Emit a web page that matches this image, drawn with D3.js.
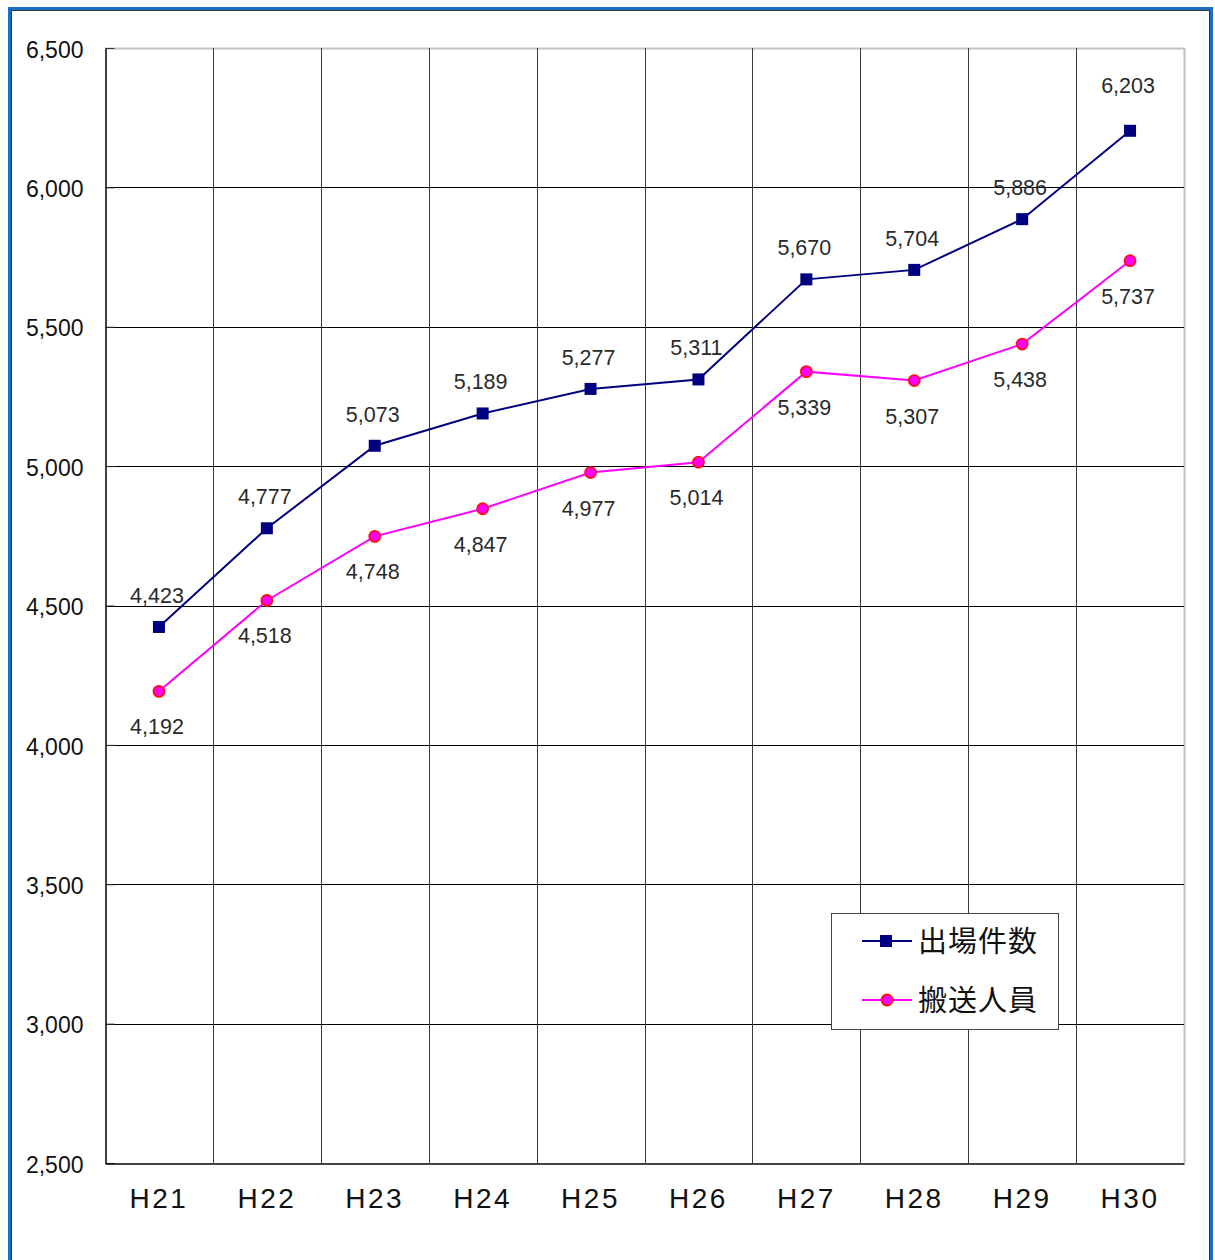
<!DOCTYPE html>
<html><head><meta charset="utf-8">
<script src="https://cdn.jsdelivr.net/npm/d3@7"></script>
<style>body{margin:0;background:#fff}svg{display:block}</style>
</head><body>
<svg id="c" width="1215" height="1260"></svg>
<script>
const categories = ["H21","H22","H23","H24","H25","H26","H27","H28","H29","H30"];
const dispatches = [4423,4777,5073,5189,5277,5311,5670,5704,5886,6203];
const transported = [4192,4518,4748,4847,4977,5014,5339,5307,5438,5737];
const yTicks = [2500,3000,3500,4000,4500,5000,5500,6000,6500];
const seriesNames = ["出場件数","搬送人員"];

const svg = d3.select("#c");
const L=105, R=1184, T=48, B=1163;
const x = d3.scaleBand().domain(categories).range([L,R]).padding(0);
const y = d3.scaleLinear().domain([2500,6500]).range([B,T]);
const fmt = d3.format(",");

// frame
svg.append("rect").attr("x",9.5).attr("y",8.5).attr("width",1202).attr("height",1270)
  .attr("fill","none").attr("stroke","#1b6ec2").attr("stroke-width",3);
svg.append("rect").attr("x",11.5).attr("y",10.5).attr("width",1198).attr("height",1270)
  .attr("fill","none").attr("stroke","#333").attr("stroke-width",1);

const g = svg.append("g");
g.append("line").attr("x1",L).attr("x2",R).attr("y1",T+0.5).attr("y2",T+0.5).attr("stroke","#c0c0c0").attr("stroke-width",2);
g.append("line").attr("x1",R+0.5).attr("x2",R+0.5).attr("y1",T).attr("y2",B).attr("stroke","#c0c0c0").attr("stroke-width",2);

g.selectAll(".hg").data(yTicks.filter(v=>v>2500 && v<6500)).join("line")
  .attr("x1",L).attr("x2",R).attr("y1",d=>Math.round(y(d))+0.5).attr("y2",d=>Math.round(y(d))+0.5)
  .attr("stroke","#000").attr("stroke-width",1);
g.selectAll(".vg").data(categories.slice(1)).join("line")
  .attr("x1",d=>Math.round(x(d))+0.5).attr("x2",d=>Math.round(x(d))+0.5).attr("y1",T).attr("y2",B)
  .attr("stroke","#3a3a3a").attr("stroke-width",1);

const yAxis = d3.axisLeft(y).tickValues(yTicks).tickFormat(fmt).tickSizeInner(-9).tickSizeOuter(0).tickPadding(22);
const ya = g.append("g").attr("transform",`translate(${L+0.5},0)`).call(yAxis);
ya.select(".domain").attr("stroke","#000").attr("stroke-width",1.5);
ya.selectAll(".tick line").attr("stroke","#333");
ya.selectAll("text").attr("font-family","Liberation Sans, Arial, sans-serif").attr("font-size",23)
  .attr("fill","#111").attr("dy","0.4em");

const xa = g.append("g").attr("transform",`translate(0,${B+0.5})`)
  .call(d3.axisBottom(x).tickSize(0).tickPadding(25));
xa.select(".domain").attr("stroke","#000").attr("stroke-width",1.5);
xa.selectAll("text").attr("font-family","Liberation Sans, Arial, sans-serif").attr("font-size",28)
  .attr("fill","#111").attr("letter-spacing","2.5px").attr("dx","0px");

const cx = d => x(d)+x.bandwidth()/2;
const line = d3.line().x(d=>cx(d[0])).y(d=>y(d[1]));
const s1 = categories.map((c,i)=>[c,dispatches[i]]);
const s2 = categories.map((c,i)=>[c,transported[i]]);

g.append("path").datum(s2).attr("d",line).attr("fill","none").attr("stroke","#ff00ff").attr("stroke-width",2);
g.append("path").datum(s1).attr("d",line).attr("fill","none").attr("stroke","#000080").attr("stroke-width",2);

g.selectAll(".m1").data(s1).join("rect")
  .attr("x",d=>cx(d[0])-6).attr("y",d=>y(d[1])-6).attr("width",12).attr("height",12).attr("fill","#000080");
g.selectAll(".m2").data(s2).join("circle")
  .attr("cx",d=>cx(d[0])).attr("cy",d=>y(d[1])).attr("r",5.5)
  .attr("fill","#ff00ff").attr("stroke","#ff1010").attr("stroke-width",1.8);

const lblFont = "Liberation Sans, Arial, sans-serif";
g.selectAll(".l1").data(s1).join("text")
  .attr("x",d=>cx(d[0])-2).attr("y",(d,i)=>y(d[1])-(i===s1.length-1?38:24)).attr("text-anchor","middle")
  .attr("font-family",lblFont).attr("font-size",21.5).attr("fill","#2a2a2a")
  .text(d=>fmt(d[1]));
g.selectAll(".l2").data(s2).join("text")
  .attr("x",d=>cx(d[0])-2).attr("y",d=>y(d[1])+43).attr("text-anchor","middle")
  .attr("font-family",lblFont).attr("font-size",21.5).attr("fill","#2a2a2a")
  .text(d=>fmt(d[1]));

const lg = svg.append("g");
lg.append("rect").attr("x",831.5).attr("y",913.5).attr("width",227).attr("height",116)
  .attr("fill","#fff").attr("stroke","#444").attr("stroke-width",1);
const items = [{c:"#000080",t:"sq",n:seriesNames[0],y:941},{c:"#ff00ff",t:"ci",n:seriesNames[1],y:1000}];
items.forEach(it=>{
  lg.append("line").attr("x1",862).attr("x2",912).attr("y1",it.y).attr("y2",it.y).attr("stroke",it.c).attr("stroke-width",2);
  if(it.t==="sq") lg.append("rect").attr("x",880).attr("y",it.y-6).attr("width",12).attr("height",12).attr("fill",it.c);
  else lg.append("circle").attr("cx",887).attr("cy",it.y).attr("r",5.5).attr("fill",it.c).attr("stroke","#ff1010").attr("stroke-width",1.8);
  lg.append("text").attr("x",918).attr("y",it.y+11).attr("font-family","Noto Sans CJK JP, sans-serif")
    .attr("font-size",29).attr("fill","#111").attr("letter-spacing","1px").text(it.n);
});
</script>
</body></html>
